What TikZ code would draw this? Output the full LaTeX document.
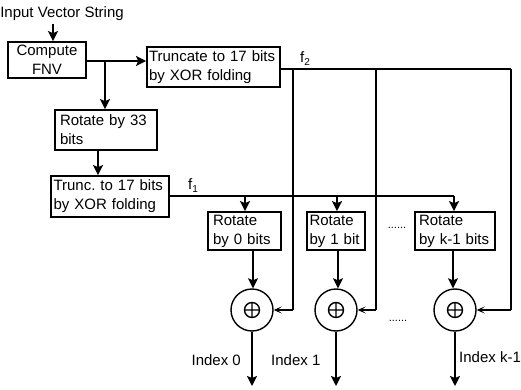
\documentclass[tikz,border=0pt]{standalone}
\usepackage{fontspec}
\setmainfont{Liberation Sans}
\usetikzlibrary{arrows.meta,calc}
\frenchspacing
\begin{document}
\begin{tikzpicture}[x=1pt,y=-1pt,
  font=\fontsize{15}{19}\selectfont,
  box/.style={draw,line width=1.8pt,rectangle,align=left,anchor=center,inner ysep=0pt},
  main/.style={line width=1.8pt},
  arr/.style={line width=1.8pt,-{Stealth[length=10pt,width=10pt,inset=2pt]}},
  fb/.style={line width=1.4pt,-{Stealth[length=8pt,width=7pt,inset=4pt]}},
  xorc/.style={draw,circle,line width=1.4pt,minimum size=42pt,inner sep=0pt},
  lab/.style={inner sep=0pt},
  dots/.style={inner sep=0pt,font=\fontsize{11}{11}\selectfont}]
\useasboundingbox (0,0) rectangle (521,390);
\newcommand{\subs}[1]{{\fontsize{10}{10}\selectfont\raisebox{-3pt}{#1}}}

% input
\node[lab] (inp) at (62,14) {Input Vector String};
\coordinate (inpa) at (53,24);

% boxes
\node[box,align=center,minimum width=78pt,minimum height=36pt,text width=74pt,inner xsep=2pt] (fnv) at (47,60) {Compute\\FNV};
\node[box,minimum width=133pt,minimum height=40pt,text width=129pt,inner xsep=2pt] (tr2) at (213.5,67) {Truncate to 17 bits\\by XOR folding};
\node[box,minimum width=102pt,minimum height=40pt,text width=92pt,inner xsep=5pt] (rot) at (106,130) {Rotate by 33\\bits};
\node[box,minimum width=118pt,minimum height=41pt,text width=113pt,inner xsep=2.5pt] (tr1) at (110,196.5) {Trunc. to 17 bits\\by XOR folding};
\node[box,minimum width=73pt,minimum height=38pt,text width=63pt,inner xsep=5pt] (r0) at (244.5,231) {Rotate\\by 0 bits};
\node[box,minimum width=58pt,minimum height=38pt,text width=53pt,inner xsep=2.5pt] (r1) at (336,231) {Rotate\\by 1 bit};
\node[box,minimum width=80pt,minimum height=38pt,text width=72pt,inner xsep=4pt] (rk) at (455,231) {Rotate\\by k-1 bits};

% xor circles
\foreach \n/\x in {c0/252,c1/336,ck/455}{
  \node[xorc] (\n) at (\x,310) {};
  \draw[line width=1.4pt] (\n) circle[radius=7.5pt]
     ($(\n)+(-7.5,0)$) -- ($(\n)+(7.5,0)$) ($(\n)+(0,-7.5)$) -- ($(\n)+(0,7.5)$);
}

% input arrow
\draw[arr] (inpa) -- (inpa |- fnv.north);

% FNV to truncate and rotate
\coordinate (br) at (105,61);
\draw[arr] (fnv.east |- br) -- (tr2.west |- br);
\draw[arr] (br) -- (br |- rot.north);
\coordinate (ra) at (98,150);
\draw[arr] (ra) -- (ra |- tr1.north);

% f1 distribution
\coordinate (f1e) at (454,196);
\draw[main] (tr1.east |- f1e) -- (f1e);
\node[lab] (f1) at (193,186) {f\subs{1}};
\foreach \b/\x in {r0/245,r1/337,rk/454}{
  \coordinate (t\b) at (\x,196);
  \draw[arr] (t\b) -- (t\b |- \b.north);
}

% rotate to xor
\coordinate (a0) at (253,250);
\coordinate (a1) at (338,250);
\coordinate (ak) at (453,250);
\draw[arr] (a0) -- (a0 |- c0.north);
\draw[arr] (a1) -- (a1 |- c1.north);
\draw[arr] (ak) -- (ak |- ck.north);

% f2 distribution
\coordinate (f2e) at (511,69);
\draw[main] (tr2.east |- f2e) -- (f2e);
\node[lab] (f2) at (305,59) {f\subs{2}};
\coordinate (v0) at (293,69);
\coordinate (v1) at (376,69);
\coordinate (w0) at (293,310);
\coordinate (w1) at (376,310);
\coordinate (wk) at (511,310);
\draw[main] (v0) -- (w0);
\draw[main] (v1) -- (w1);
\draw[main] (f2e) -- (wk);
\draw[fb] (w0) -- (c0.east);
\draw[fb] (w1) -- (c1.east);
\draw[fb] (wk) -- (ck.east);

% outputs
\coordinate (o0) at (252,386);
\coordinate (o1) at (336,386);
\coordinate (ok) at (455,386);
\draw[arr] (c0.south) -- (o0);
\draw[arr] (c1.south) -- (o1);
\draw[arr] (ck.south) -- (ok);
\node[lab,anchor=east] (i0) at (241,360) {Index 0};
\node[lab,anchor=west] (i1) at (271,360) {Index 1};
\node[lab,anchor=west] (ik) at (459,357) {Index k-1};

% dots
\node[dots] (d1) at (397,228) {......};
\node[dots] (d2) at (398,321) {......};
\end{tikzpicture}
\end{document}
